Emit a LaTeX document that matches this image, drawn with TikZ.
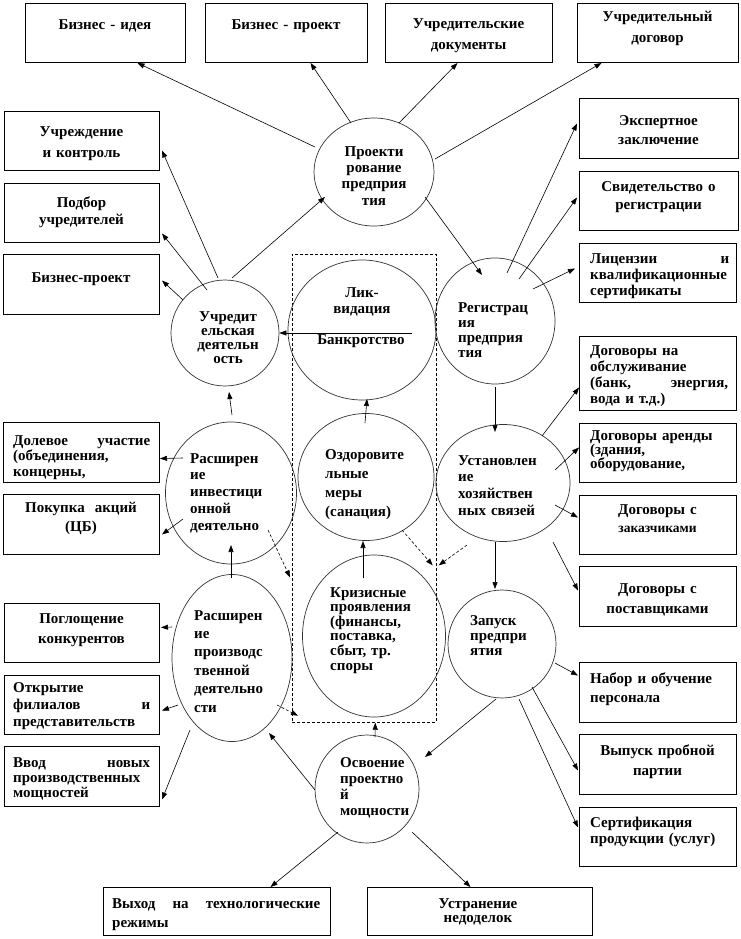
\documentclass[tikz,border=0pt]{standalone}
\usepackage{fontspec}
\setmainfont{Liberation Serif}
\usetikzlibrary{arrows.meta,calc,shapes.geometric}
\newcommand\conn[5][arr]{\draw[#1] ($(#2)+(#3)$) -- ($(#4)+(#5)$);}
\newcommand\fsz[1]{\fontsize{15}{#1}\selectfont\bfseries\lineskiplimit=-20pt\relax}
\begin{document}
\begin{tikzpicture}[x=1pt,y=-1pt,
  box/.style={draw, line width=1pt, rectangle, inner sep=0pt, anchor=north west},
  oval/.style={draw=black!80, line width=0.7pt, ellipse, inner sep=0pt},
  arr/.style={line width=0.6pt, -{Triangle[length=7pt,width=5pt]}},
  darr/.style={arr, dash pattern=on 3pt off 2pt},
  tx/.style={font={\fsz{#1}}, inner sep=0pt},
  tx/.default=16,
  tc/.style={tx=#1, anchor=base, align=center, text width=160pt},
  tl/.style={tx=#1, anchor=base west, align=left, text width=150pt},
]
\fill[white] (0,0) rectangle (741,939);
\useasboundingbox (0,0) rectangle (741,939);

% boxes
\node[box, minimum width=160pt, minimum height=59pt] (b1) at (25,3) {};
\node[box, minimum width=162pt, minimum height=59pt] (b2) at (205,3) {};
\node[box, minimum width=167pt, minimum height=59pt] (b3) at (385,3) {};
\node[box, minimum width=161pt, minimum height=59pt] (b4) at (577,3) {};
\node[box, minimum width=155pt, minimum height=59pt] (b5) at (4,111) {};
\node[box, minimum width=155pt, minimum height=59pt] (b6) at (4,183) {};
\node[box, minimum width=156pt, minimum height=60pt] (b7) at (3,254) {};
\node[box, minimum width=156pt, minimum height=60pt] (b8) at (3,422) {};
\node[box, minimum width=156pt, minimum height=60pt] (b9) at (3,494) {};
\node[box, minimum width=155pt, minimum height=59pt] (b10) at (4,603) {};
\node[box, minimum width=155pt, minimum height=59pt] (b11) at (4,675) {};
\node[box, minimum width=155pt, minimum height=60pt] (b12) at (4,746) {};
\node[box, minimum width=159pt, minimum height=60pt] (b13) at (579,98) {};
\node[box, minimum width=159pt, minimum height=59pt] (b14) at (579,171) {};
\node[box, minimum width=157pt, minimum height=59pt] (b15) at (579,243) {};
\node[box, minimum width=157pt, minimum height=74pt] (b16) at (579,336) {};
\node[box, minimum width=157pt, minimum height=59pt] (b17) at (579,423) {};
\node[box, minimum width=157pt, minimum height=59pt] (b18) at (579,495) {};
\node[box, minimum width=157pt, minimum height=60pt] (b19) at (579,566) {};
\node[box, minimum width=157pt, minimum height=60pt] (b20) at (579,662) {};
\node[box, minimum width=157pt, minimum height=60pt] (b21) at (579,734) {};
\node[box, minimum width=157pt, minimum height=59pt] (b22) at (579,807) {};
\node[box, minimum width=227pt, minimum height=48pt] (b23) at (103,887) {};
\node[box, minimum width=225pt, minimum height=48pt] (b24) at (367,887) {};

% dashed frame
\node[draw, line width=0.7pt, dash pattern=on 3pt off 2pt, rectangle, inner sep=0pt,
      anchor=north west, minimum width=144pt, minimum height=468pt] (dash) at (292,254) {};

% ovals
\node[oval, minimum width=120pt, minimum height=108pt] (proj) at (374,172) {};
\node[oval, minimum width=108pt, minimum height=106pt] (uch) at (225,333) {};
\node[oval, minimum width=148pt, minimum height=140pt] (liq) at (362,330) {};
\node[oval, minimum width=120pt, minimum height=126pt] (reg) at (495,321) {};
\node[oval, minimum width=136pt, minimum height=127pt] (ozd) at (366,477) {};
\node[oval, minimum width=134pt, minimum height=117pt] (ust) at (503,483) {};
\node[oval, minimum width=131pt, minimum height=142pt] (rinv) at (231,493) {};
\node[oval, minimum width=143pt, minimum height=162pt] (kriz) at (374,636) {};
\node[oval, minimum width=108pt, minimum height=108pt] (zap) at (502,644) {};
\node[oval, minimum width=120pt, minimum height=167pt] (rpr) at (232,658) {};
\node[oval, minimum width=104pt, minimum height=108pt] (osv) at (367,789) {};

% box texts
\node[tc] (t1) at (105,30) {Бизнес - идея};
\node[tc] (t2) at (286,30) {Бизнес - проект};
\node[tc=21] (t3) at (468.5,29) {Учредительские\\документы};
\node[tc=21] (t4) at (657.5,22) {Учредительный\\договор};
\node[tc=21] (t5) at (81.5,136) {Учреждение\\и контроль};
\node[tc=17] (t6) at (81.5,207) {Подбор\\учредителей};
\node[tc] (t7) at (81,282) {Бизнес-проект};
\node[tl=15.5, text width=137pt] (t8) at (13,445) {Долевое\hfill участие\\(объединения,\\концерны,};
\node[tc=19] (t9) at (81,512) {Покупка~ акций\\(ЦБ)};
\node[tc=20] (t10) at (81.5,623) {Поглощение\\конкурентов};
\node[tl=17, text width=137pt] (t11) at (13,692) {Открытие\\филиалов\hfill и\\представительств};
\node[tl=15, text width=137pt] (t12) at (13,767) {Ввод\hfill новых\\производственных\\мощностей};
\node[tc=19] (t13) at (658.5,125) {Экспертное\\заключение};
\node[tc=18] (t14) at (658.5,191) {Свидетельство о\\регистрации};
\node[tl=16, text width=139pt] (t15) at (590,263) {Лицензии\hfill и\\квалификационные\\сертификаты};
\node[tl=16, text width=138pt] (t16) at (590,355) {Договоры на\\обслуживание\\(банк,\hfill энергия,\\вода и т.д.)};
\node[tl=14] (t17) at (590,440) {Договоры аренды\\(здания,\\оборудование,};
\node[tc=18] (t18) at (657.5,514) {Договоры с\\{\fontsize{13.5}{18}\selectfont заказчиками}};
\node[tc=20] (t19) at (657.5,593) {Договоры с\\поставщиками};
\node[tl=19] (t20) at (590,683) {Набор и обучение\\персонала};
\node[tc=20] (t21) at (657.5,755) {Выпуск пробной\\партии};
\node[tl=16] (t22) at (590,827) {Сертификация\\продукции (услуг)};
\node[tl=19, text width=208pt] (t23) at (112,908) {Выход\hfill на\hfill технологические\\режимы};
\node[tc=14] (t24) at (478,908) {Устранение\\недоделок};

% oval texts
\node[tc=16] (c1) at (374,157) {Проекти\\рование\\предприя\\тия};
\node[tc=14] (c2) at (228,321) {Учредит\\ельская\\деятельн\\ость};
\node[tc=16] (c3) at (362,297) {Лик-\\видация};
\node[tc] (c3b) at (361,344) {Банкротство};
\node[tl=15] (c4) at (458,312) {Регистрац\\ия\\предприя\\тия};
\node[tl=19.3] (c5) at (325,459) {Оздоровите\\льные\\меры\\(санация)};
\node[tl=16.7] (c6) at (458,465) {Установлен\\ие\\хозяйствен\\ных связей};
\node[tl=16.8] (c7) at (190,463) {Расширен\\ие\\инвестици\\онной\\деятельно};
\node[tl=14.6] (c8) at (330,597) {Кризисные\\проявления\\(финансы,\\поставка,\\сбыт, тр.\\споры};
\node[tl=15] (c9) at (470,625) {Запуск\\предпри\\ятия};
\node[tl=18.4] (c10) at (194,620) {Расширен\\ие\\производс\\твенной\\деятельно\\сти};
\node[tl=16] (c11) at (340,767) {Освоение\\проектно\\й\\мощности};

% connectors
\conn{proj}{-59,-25}{b1.south}{32,0}
\conn{proj}{-23,-49}{b2.south}{24,0}
\conn{proj}{25,-49}{b3.south}{-11.5,0}
\conn{proj}{61,-13}{b4.south}{-56.5,0}
\conn{proj}{51,25}{reg}{-13,-46}
\conn{uch}{-7,-55}{b5.east}{2,9.5}
\conn{uch}{-18,-43}{b6.east}{2,20.5}
\conn{uch}{-42,-33}{b7.east}{2,-4}
\conn{uch}{7,-55}{proj}{-49,25}
\conn{liq}{50,3}{uch.east}{0,0}
\conn{ozd}{-1,-54}{liq}{5,69}
\conn{kriz}{-11,-58}{ozd}{-3,64}
\conn[darr]{ozd}{36,53}{dash.east}{-4,77}
\conn[darr]{ust}{-36,62}{dash.east}{2,77}
\conn[darr]{rinv}{37,37}{dash.west}{-2,89}
\conn[darr]{rpr}{45,47}{dash.south west}{6,-7}
\conn{osv}{8,-52}{dash.south}{11,0}
\conn{reg}{12,-48}{b13.west}{-2,-5}
\conn{reg}{24,-42}{b14.west}{-2,-3.5}
\conn{reg}{38,-32}{b15.west}{-4,-4.5}
\conn{reg}{0,66}{ust}{-8,-51}
\conn{ust}{39,-47}{b16.west}{0,14}
\conn{ust}{52,-13}{b17.west}{0,-5.5}
\conn{ust}{52,22}{b18.west}{-1,-7.5}
\conn{ust}{50,59}{b19.west}{-1,-6}
\conn{ust}{-8,59}{zap}{-7,-55}
\conn{zap}{53,19}{b20.west}{-1,-17}
\conn{zap}{30,43}{b21.west}{-1,6}
\conn{zap}{17,55}{b22.west}{-1,-9.5}
\conn{zap}{-6,55}{osv}{58,-32}
\conn{osv}{-52,1}{rpr}{37,75}
\conn{osv}{-29,43}{b23.north}{53.5,0}
\conn{osv}{45,43}{b24.north}{-9.5,0}
\conn{rpr}{-1,-80}{rinv}{0,52}
\conn{rinv}{1,-78}{uch}{4,59}
\conn{rinv}{-48,-35}{b8.east}{0,6}
\conn{rinv}{-48,26}{b9.east}{2,10}
\conn{rpr}{-60,-31}{b10.east}{1,-5.5}
\conn{rpr}{-54,47}{b11.east}{2,5.5}
\conn{rpr}{-42,72}{b12.east}{2,23}
\end{tikzpicture}
\end{document}
